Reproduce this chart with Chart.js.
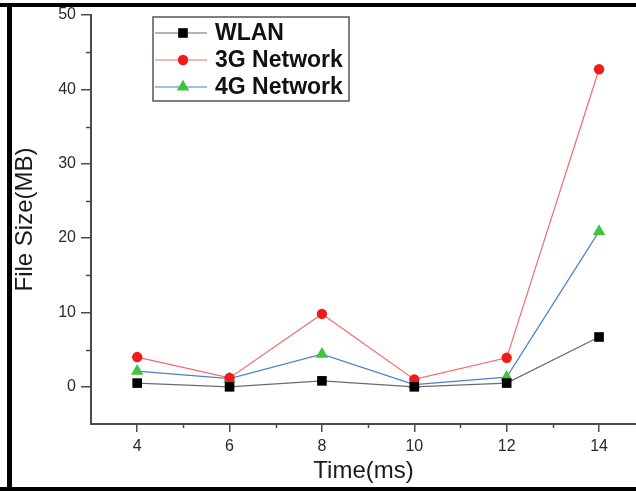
<!DOCTYPE html>
<html>
<head>
<meta charset="utf-8">
<script src="https://cdn.jsdelivr.net/npm/chart.js@4.4.0/dist/chart.umd.min.js"></script>
<style>
  html, body { margin: 0; padding: 0; background: #fff; }
  #wrap { position: relative; width: 636px; height: 491px; }
  canvas { display: block; }
</style>
</head>
<body>
<div id="wrap"><canvas id="c" width="636" height="491"></canvas></div>
<script>
// ---- data ----
const timeMs   = [4, 6, 8, 10, 12, 14];
const wlan     = [0.5, 0.0, 0.8, 0.0, 0.5, 6.7];
const net3g    = [4.0, 1.2, 9.8, 1.0, 3.9, 42.7];
const net4g    = [2.1, 1.1, 4.4, 0.3, 1.3, 20.9];
const seriesNames = ['WLAN', '3G Network', '4G Network'];
const xTicks   = [4, 6, 8, 10, 12, 14];
const xMinor   = [5, 7, 9, 11, 13];
const yTicks   = [0, 10, 20, 30, 40, 50];
const yMinor   = [5, 15, 25, 35, 45];

const toXY = arr => arr.map((v, i) => ({ x: timeMs[i], y: v }));
const FONT = "'Liberation Sans', Arial, sans-serif";
const AXIS = '#4a4a4a';

const minorTicks = {
  id: 'minorTicks',
  afterDraw(chart) {
    const ctx = chart.ctx, xs = chart.scales.x, ys = chart.scales.y;
    ctx.save();
    ctx.strokeStyle = AXIS;
    ctx.lineWidth = 1.5;
    ctx.beginPath();
    xMinor.forEach(v => {
      const px = Math.round(xs.getPixelForValue(v)) + 0.5;
      ctx.moveTo(px, xs.top); ctx.lineTo(px, xs.top + 4);
    });
    yMinor.forEach(v => {
      const py = Math.round(ys.getPixelForValue(v)) + 0.5;
      ctx.moveTo(ys.right, py); ctx.lineTo(ys.right - 5, py);
    });
    ctx.stroke();
    ctx.restore();
  }
};

function drawMarker(ctx, style, x, y, r, color) {
  ctx.fillStyle = color;
  ctx.beginPath();
  if (style === 'rect') {
    const s = r * Math.SQRT1_2;
    ctx.rect(x - s, y - s, 2 * s, 2 * s);
  } else if (style === 'circle') {
    ctx.arc(x, y, r, 0, Math.PI * 2);
  } else if (style === 'triangle') {
    ctx.moveTo(x, y - r);
    ctx.lineTo(x + r * 0.866, y + r * 0.5);
    ctx.lineTo(x - r * 0.866, y + r * 0.5);
    ctx.closePath();
  }
  ctx.fill();
}

const boxLegend = {
  id: 'boxLegend',
  afterDraw(chart) {
    const ctx = chart.ctx;
    const bx = 153, by = 17, bw = 196, bh = 84;
    ctx.save();
    ctx.strokeStyle = '#555';
    ctx.lineWidth = 1.5;
    ctx.strokeRect(bx, by, bw, bh);
    chart.data.datasets.forEach((ds, i) => {
      const y = by + 16 + i * 27;
      ctx.strokeStyle = ds.borderColor;
      ctx.lineWidth = 1.2;
      ctx.beginPath();
      ctx.moveTo(bx + 2, y); ctx.lineTo(bx + 54, y);
      ctx.stroke();
      drawMarker(ctx, ds.pointStyle, bx + 30, y, ds.pointRadius, ds.pointBackgroundColor);
      ctx.fillStyle = '#111';
      ctx.font = "bold 23px " + FONT;
      ctx.textBaseline = 'middle';
      ctx.textAlign = 'left';
      ctx.fillText(ds.label, bx + 62, y + 1);
    });
    ctx.restore();
  }
};

const frame = {
  id: 'frame',
  afterDraw(chart) {
    const ctx = chart.ctx;
    ctx.save();
    ctx.fillStyle = '#000';
    ctx.fillRect(0, 3, 636, 4);     // top
    ctx.fillRect(7, 3, 5, 488);     // left
    ctx.fillRect(0, 487, 636, 4);   // bottom
    ctx.restore();
  }
};

new Chart(document.getElementById('c'), {
  type: 'line',
  data: {
    datasets: [
      { label: seriesNames[0], data: toXY(wlan), borderColor: '#6b6b6b', borderWidth: 1.2,
        pointStyle: 'rect', pointRadius: 6.8, pointBackgroundColor: '#000', pointBorderColor: '#000', pointBorderWidth: 0 },
      { label: seriesNames[1], data: toXY(net3g), borderColor: '#f26a6a', borderWidth: 1.2,
        pointStyle: 'circle', pointRadius: 5.2, pointBackgroundColor: '#f01c1c', pointBorderColor: '#f01c1c', pointBorderWidth: 0 },
      { label: seriesNames[2], data: toXY(net4g), borderColor: '#4d7fcf', borderWidth: 1.2,
        pointStyle: 'triangle', pointRadius: 7.2, pointBackgroundColor: '#3fc43f', pointBorderColor: '#3fc43f', pointBorderWidth: 0 }
    ]
  },
  options: {
    responsive: false,
    animation: false,
    layout: { autoPadding: false, padding: { top: 15, right: 0, bottom: 0, left: 0 } },
    plugins: { legend: { display: false }, tooltip: { enabled: false } },
    scales: {
      x: {
        type: 'linear', min: 3, max: 14.8,
        afterBuildTicks: s => { s.ticks = xTicks.map(v => ({ value: v })); },
        afterFit: s => { s.height = 67; s.paddingRight = 0; s.paddingLeft = 0; },
        grid: { drawOnChartArea: false, drawTicks: true, tickLength: 8, color: AXIS, lineWidth: 1.5 },
        border: { display: true, color: AXIS, width: 2 },
        ticks: { color: '#2a2a2a', font: { family: FONT, size: 16 }, padding: 5, maxRotation: 0 },
        title: { display: true, text: 'Time(ms)', color: '#1a1a1a', font: { family: FONT, size: 24 }, padding: { top: 0, bottom: 5 } }
      },
      y: {
        type: 'linear', min: -5, max: 50,
        afterBuildTicks: s => { s.ticks = yTicks.map(v => ({ value: v })); },
        afterFit: s => { s.width = 91; },
        grid: { drawOnChartArea: false, drawTicks: true, tickLength: 10, color: AXIS, lineWidth: 1.5 },
        border: { display: true, color: AXIS, width: 2 },
        ticks: { color: '#2a2a2a', font: { family: FONT, size: 16 }, padding: 5 },
        title: { display: true, text: 'File Size(MB)', color: '#1a1a1a', font: { family: FONT, size: 24 }, padding: { top: 11, bottom: 0 } }
      }
    }
  },
  plugins: [minorTicks, boxLegend, frame]
});
</script>
</body>
</html>
